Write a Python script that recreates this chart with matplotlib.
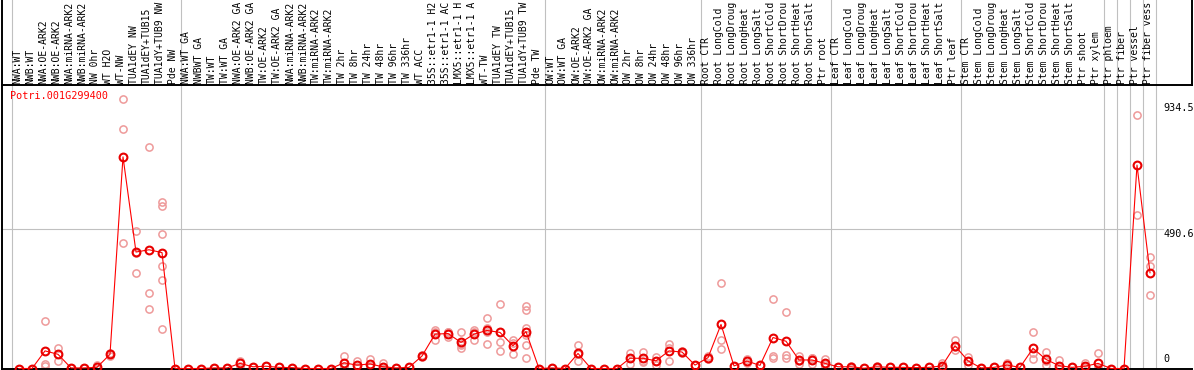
import numpy as np
import matplotlib.pyplot as plt
from matplotlib import transforms

# sample groups (column labels, left to right, as printed - long names are cut in the source)
nw = ["NWA:WT", "NWB:WT", "NWA:OE-ARK2", "NWB:OE-ARK2", "NWA:miRNA-ARK2", "NWB:miRNA-ARK2",
      "NW 0hr", "WT H2O", "WT-NW", "TUA1dEY NW", "TUA1dEY+TUB15", "TUA1dY+TUB9 NW", "Pde NW"]
tw = ["NWA:WT GA", "NWBWT GA", "TW:WT", "TW:WT GA", "NWA:OE-ARK2 GA", "NWB:OE-ARK2 GA",
      "TW:OE-ARK2", "TW:OE-ARK2 GA", "NWA:miRNA-ARK2", "NWB:miRNA-ARK2", "TW:miRNA-ARK2",
      "TW:miRNA-ARK2", "TW 2hr", "TW 8hr", "TW 24hr", "TW 48hr", "TW 96hr", "TW 336hr",
      "WT ACC", "35S::etr1-1 H2", "35S::etr1-1 AC", "LMX5::etr1-1 H", "LMX5::etr1-1 A",
      "WT-TW", "TUA1dEY TW", "TUA1dEY+TUB15", "TUA1dY+TUB9 TW", "Pde TW"]
ow = ["OW:WT", "OW:WT GA", "OW:OE-ARK2", "OW:OE-ARK2 GA", "OW:miRNA-ARK2", "OW:miRNA-ARK2",
      "OW 2hr", "OW 8hr", "OW 24hr", "OW 48hr", "OW 96hr", "OW 336hr"]
stress = ["CTR", "LongCold", "LongDroug", "LongHeat", "LongSalt",
          "ShortCold", "ShortDrou", "ShortHeat", "ShortSalt"]
root = ["Root " + s for s in stress] + ["Ptr root"]
leaf = ["Leaf " + s for s in stress] + ["Ptr leaf"]
stem = ["Stem " + s for s in stress] + ["Ptr shoot", "Ptr xylem"]
groups = [nw, tw, ow, root, leaf, stem, ["Ptr phloem"], ["Ptr fiber"], ["Ptr vessel"],
          ["Ptr fiber vess"]]
labels = [l for g in groups for l in g]

# mean expression per sample
means = [0, 0, 62, 50, 2, 2, 4, 50, 745, 410, 418, 408, 0,
         0, 0, 2, 2, 18, 6, 8, 4, 3, 0, 0, 0, 20, 12, 16, 6, 2, 4, 44, 121, 123, 92, 121,
         134, 127, 80, 130, 0,
         2, 0, 53, 0, 0, 0, 36, 36, 27, 62, 58, 12,
         38, 155, 9, 26, 11, 109, 96, 30, 30, 18,
         6, 6, 1, 6, 4, 4, 3, 4, 9, 80,
         27, 2, 4, 12, 4, 71, 32, 10, 4, 8, 18,
         0, 0, 716, 337]

# replicate values per sample
reps = [[0], [0], [166, 16, 8], [73, 26, 50], [2], [2], [12, 0, 0], [55, 45],
        [950, 842, 442], [485, 337, 408], [779, 265, 211], [586, 572, 473, 362, 310, 138], [0],
        [0], [0], [2], [2], [26, 10], [6], [8], [4], [3], [0], [0], [0],
        [44, 10, 6], [27, 6, 3], [33, 10, 5], [20, 0, 0], [2], [4], [48, 40],
        [135, 100, 128], [130, 111, 128], [127, 73, 81, 87], [135, 100, 128],
        [179, 144, 86, 127], [226, 92, 61], [100, 51, 89], [219, 207, 143, 117, 82, 36], [0],
        [2], [0], [82, 27, 50], [0], [0], [0], [55, 15, 38], [59, 23, 26], [41, 12, 28],
        [88, 26, 72], [55, 62, 57], [12],
        [45, 32], [302, 100, 67], [9], [33, 20], [11], [246, 44, 36], [200, 47, 38],
        [45, 17, 28], [38, 15, 37], [33, 6, 15],
        [6], [9, 3], [1], [9, 3], [4], [4], [3], [4], [20, 4, 3], [100, 65, 75],
        [41, 12, 28], [2], [4], [18, 6], [4], [127, 55, 32], [57, 12, 27], [30, 0, 0], [4],
        [18, 2, 4], [53, 0, 1],
        [0], [0], [891, 540], [391, 362, 257]]

gene = "Potri.001G299400"
yticks = [0, 490.6, 934.5]

W, H = 1194, 370
fig = plt.figure(figsize=(W / 100, H / 100), dpi=100)
mono = "DejaVu Sans Mono"
fs = 7

# pixel layout: first column at 19 px, columns 13 px apart
def px2x(px):
    return (px - 19) / 13.0

x0, x1 = 1.5, 1192
ax = fig.add_axes([x0 / W, 1.5 / H, (x1 - x0) / W, 283.5 / H])
hx = fig.add_axes([x0 / W, (H - 85) / H, (x1 - x0) / W, 85 / H])
for a in (ax, hx):
    a.set_xlim(px2x(x0), px2x(x1))
    a.set_xticks([])
    a.set_yticks([])
    for s in a.spines.values():
        s.set_color("black")
        s.set_linewidth(1.4)
ax.spines["top"].set_visible(False)
ax.spines["right"].set_visible(False)
hx.spines["top"].set_visible(False)
hx.set_ylim(0, 1)
ax.set_ylim(0, 998)

x = np.arange(len(means))
seps = np.cumsum([0] + [len(g) for g in groups])
for k in seps:
    for a in (ax, hx):
        a.axvline(k - 7.5 / 13, color="#c0c0c0", lw=0.8, zorder=0)
ax.axhline(yticks[1], xmax=(1163 - x0) / (x1 - x0), color="#c0c0c0", lw=0.8, zorder=0)

# replicates
for i, r in enumerate(reps):
    ax.plot([i] * len(r), r, "o", ms=5.2, mfc="none", mec="#ee9a9a", mew=1.1,
            clip_on=False, zorder=2)
ax.plot(x, means, "-", color="#ff0000", lw=0.8, zorder=3, clip_on=False)
ax.plot(x, means, "o", ms=5.6, mfc="none", mec="#e80000", mew=1.5, zorder=4, clip_on=False)

# column labels
off = transforms.offset_copy(hx.transData, fig=fig, x=0, y=1.5, units="dots")
for i, l in enumerate(labels):
    hx.text(i - 0.15, 0, l, rotation=90, ha="center", va="bottom", family=mono,
            fontsize=fs, transform=off)

ax.text(8.5 / (x1 - x0), 1 - 11 / 283.5, gene, transform=ax.transAxes, color="red",
        family=mono, fontsize=fs + 0.3, ha="left", va="center")
tx = px2x(1163)
ax.text(tx, yticks[2], "934.5", family=mono, fontsize=fs + 0.3, ha="left", va="top")
ax.text(tx, yticks[1], "490.6", family=mono, fontsize=fs + 0.3, ha="left", va="top")
ax.text(tx, 16, "0", family=mono, fontsize=fs + 0.3, ha="left", va="bottom")

fig.savefig("out.png", dpi=100)
